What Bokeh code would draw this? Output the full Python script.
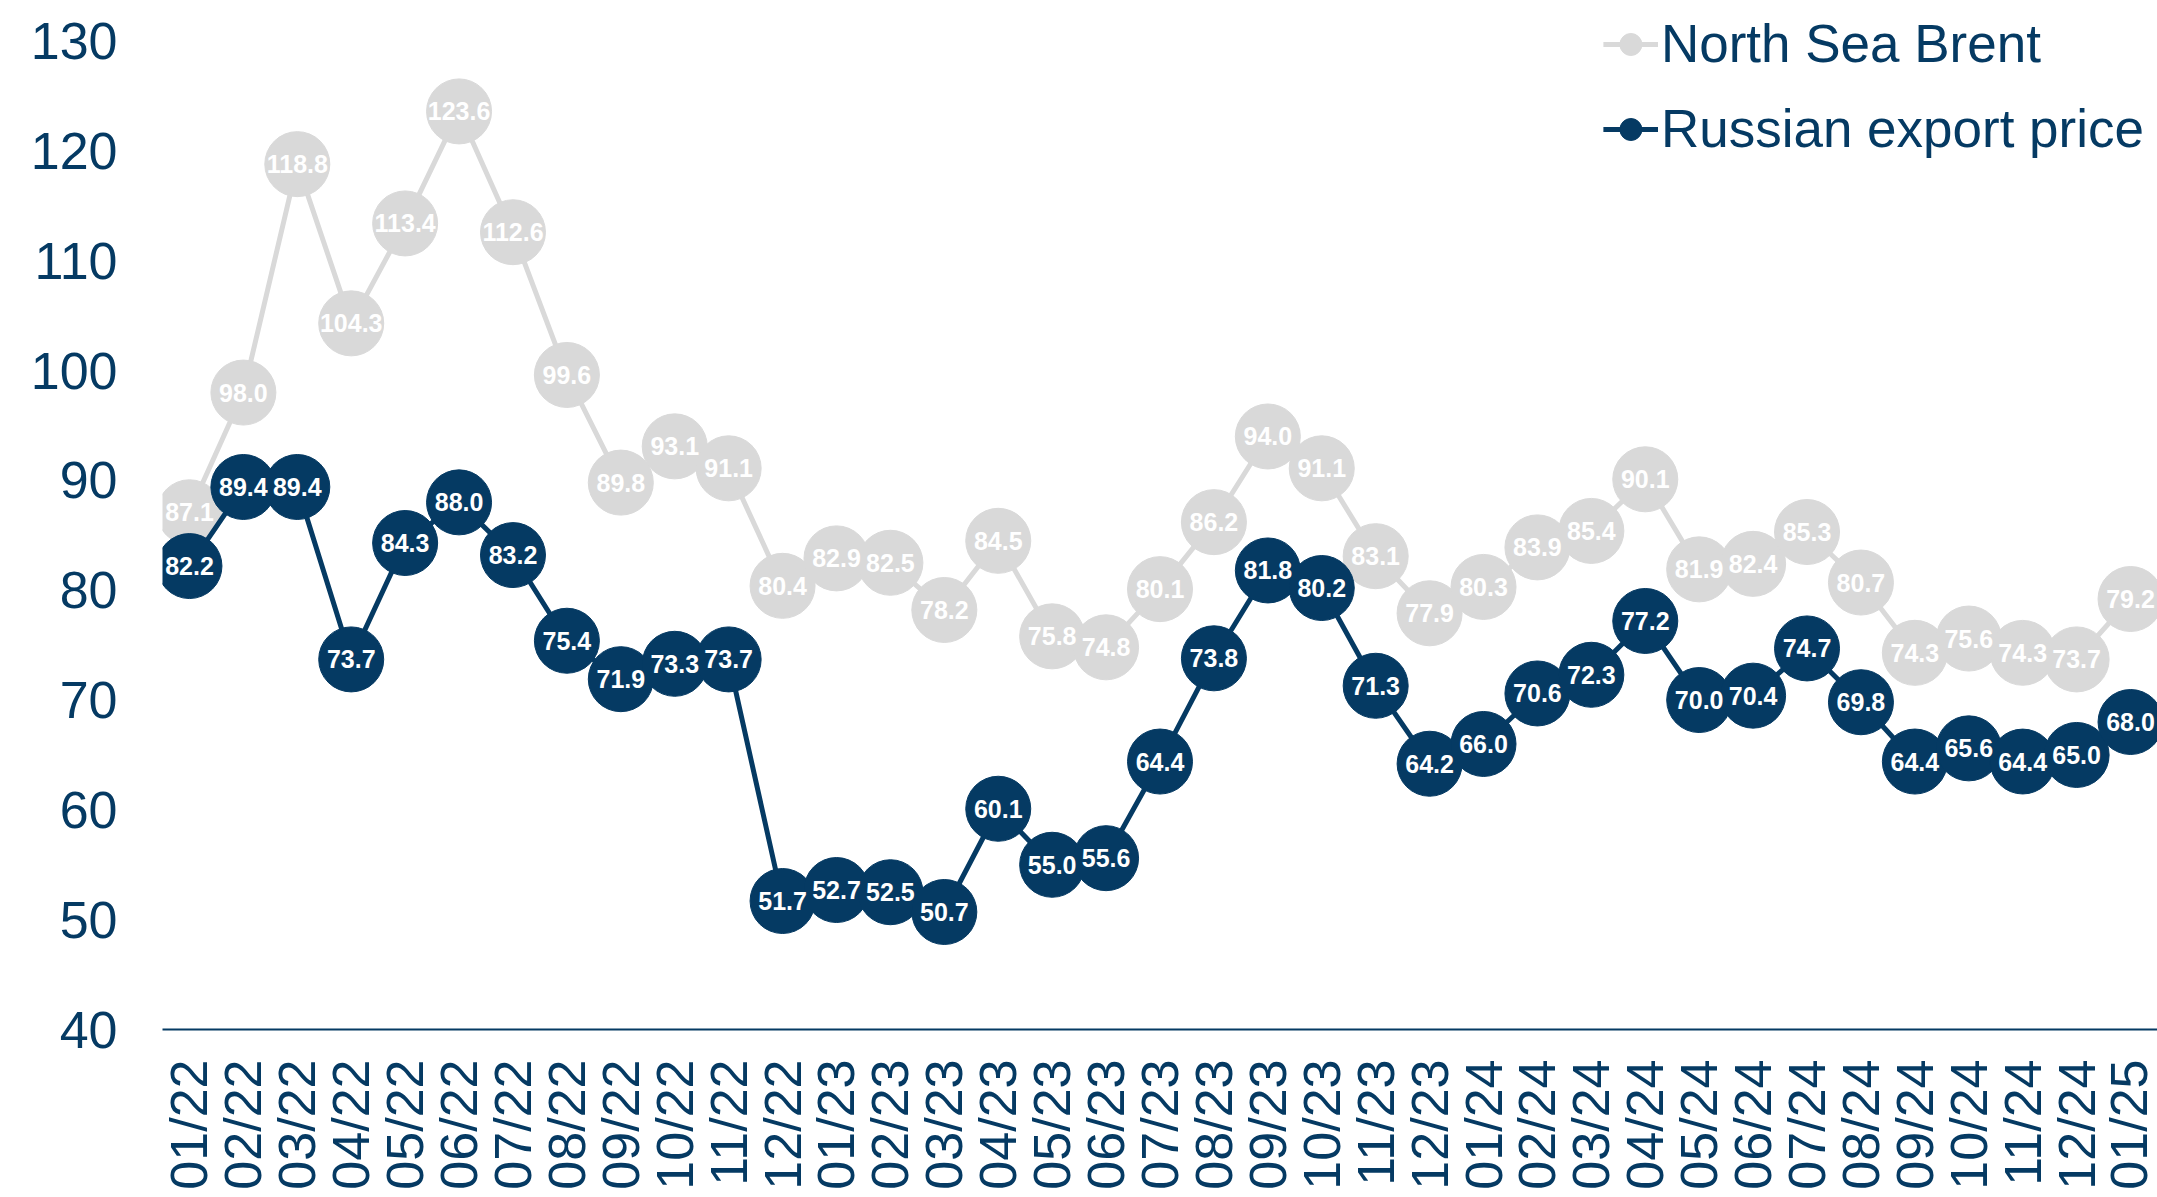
import math

from bokeh.plotting import figure
from bokeh.models import ColumnDataSource, FactorRange, Range1d, FixedTicker, Legend, LegendItem
from bokeh.core.properties import value
from bokeh.embed import file_html
from bokeh.resources import INLINE

# Monthly crude prices, USD per barrel
months = [
    "01/22", "02/22", "03/22", "04/22", "05/22", "06/22", "07/22", "08/22", "09/22", "10/22", "11/22", "12/22",
    "01/23", "02/23", "03/23", "04/23", "05/23", "06/23", "07/23", "08/23", "09/23", "10/23", "11/23", "12/23",
    "01/24", "02/24", "03/24", "04/24", "05/24", "06/24", "07/24", "08/24", "09/24", "10/24", "11/24", "12/24",
    "01/25",
]
brent = [
    87.1, 98.0, 118.8, 104.3, 113.4, 123.6, 112.6, 99.6, 89.8, 93.1, 91.1, 80.4,
    82.9, 82.5, 78.2, 84.5, 75.8, 74.8, 80.1, 86.2, 94.0, 91.1, 83.1, 77.9,
    80.3, 83.9, 85.4, 90.1, 81.9, 82.4, 85.3, 80.7, 74.3, 75.6, 74.3, 73.7,
    79.2,
]
russian = [
    82.2, 89.4, 89.4, 73.7, 84.3, 88.0, 83.2, 75.4, 71.9, 73.3, 73.7, 51.7,
    52.7, 52.5, 50.7, 60.1, 55.0, 55.6, 64.4, 73.8, 81.8, 80.2, 71.3, 64.2,
    66.0, 70.6, 72.3, 77.2, 70.0, 70.4, 74.7, 69.8, 64.4, 65.6, 64.4, 65.0,
    68.0,
]
y_ticks = [40, 50, 60, 70, 80, 90, 100, 110, 120, 130]

NAVY = "#053A63"
GREY = "#D9D9D9"
FONT = "Liberation Sans"

src_brent = ColumnDataSource(dict(m=months, v=brent, lbl=[f"{v:.1f}" for v in brent]))
src_russian = ColumnDataSource(dict(m=months, v=russian, lbl=[f"{v:.1f}" for v in russian]))

p = figure(
    x_range=FactorRange(factors=months, range_padding=0),
    y_range=Range1d(40, 133.7),
    width=2157, height=1197,
    output_backend="svg", toolbar_location=None,
    min_border_left=162, min_border_right=0, min_border_top=0, min_border_bottom=168,
)
p.outline_line_color = None
p.xgrid.visible = False
p.ygrid.visible = False

# Axes
p.yaxis.ticker = FixedTicker(ticks=y_ticks)
p.yaxis.axis_line_color = None
p.yaxis.major_tick_line_color = None
p.yaxis.minor_tick_line_color = None
p.yaxis.major_tick_out = 0
p.yaxis.major_label_standoff = 45
p.yaxis.major_label_text_font = FONT
p.yaxis.major_label_text_font_size = "52px"
p.yaxis.major_label_text_color = NAVY

p.xaxis.axis_line_color = NAVY
p.xaxis.axis_line_width = 2
p.xaxis.major_tick_line_color = None
p.xaxis.minor_tick_line_color = None
p.xaxis.major_tick_out = 0
p.xaxis.major_label_standoff = 30
p.xaxis.major_label_orientation = math.pi / 2
p.xaxis.major_label_text_font = FONT
p.xaxis.major_label_text_font_size = "52px"
p.xaxis.major_label_text_color = NAVY

# North Sea Brent
l1 = p.line("m", "v", source=src_brent, line_color=GREY, line_width=5)
s1 = p.scatter("m", "v", source=src_brent, size=65, fill_color=GREY, line_color=GREY)
p.text("m", "v", text="lbl", source=src_brent, text_align="center", text_baseline="middle",
       text_color="white", text_font=value(FONT), text_font_style="bold", text_font_size="25px")

# Russian export price
l2 = p.line("m", "v", source=src_russian, line_color=NAVY, line_width=5)
s2 = p.scatter("m", "v", source=src_russian, size=65, fill_color=NAVY, line_color=NAVY)
p.text("m", "v", text="lbl", source=src_russian, text_align="center", text_baseline="middle",
       text_color="white", text_font=value(FONT), text_font_style="bold", text_font_size="25px")

legend = Legend(
    items=[
        LegendItem(label="North Sea Brent", renderers=[l1, s1]),
        LegendItem(label="Russian export price", renderers=[l2, s2]),
    ],
    location="top_right",
    orientation="vertical",
    margin=13,
    padding=8,
    spacing=24,
    glyph_width=55,
    glyph_height=60,
    label_height=60,
    label_standoff=3,
    label_text_font=FONT,
    label_text_font_size="53px",
    label_text_color=NAVY,
    label_text_baseline="middle",
    border_line_color=None,
    background_fill_alpha=0,
)
p.add_layout(legend)

open("out.html", "w").write(file_html(p, INLINE))
